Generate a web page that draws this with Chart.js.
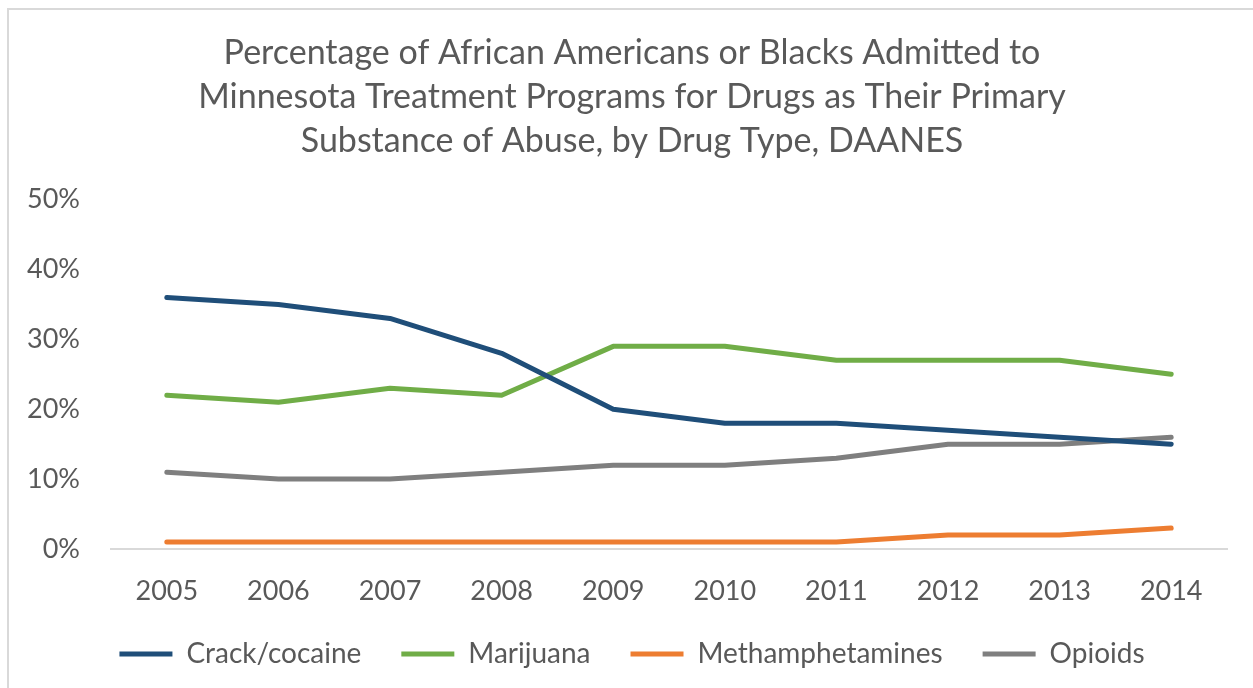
<!DOCTYPE html>
<html>
<head>
<meta charset="utf-8">
<script src="https://cdn.jsdelivr.net/npm/chart.js@4"></script>
<style>
  html, body { margin: 0; padding: 0; background: #fff; }
  #frame { position: absolute; left: 0; top: 0; width: 1253px; height: 688px; overflow: hidden; }
  #box { position: absolute; left: 7px; top: 8px; width: 1300px; height: 760px; border-left: 2px solid #d9d9d9; border-top: 2px solid #d9d9d9; }
  #wrap { position: absolute; left: 0; top: 0; width: 1253px; height: 688px; }
</style>
</head>
<body>
<div id="frame">
  <div id="box"></div>
  <div id="wrap"><canvas id="chart"></canvas></div>
</div>
<script>
// years on the x axis
const years = ['2005', '2006', '2007', '2008', '2009', '2010', '2011', '2012', '2013', '2014'];

// percent of admissions
const crackCocaine = [36, 35, 33, 28, 20, 18, 18, 17, 16, 15];
const marijuana = [22, 21, 23, 22, 29, 29, 27, 27, 27, 25];
const methamphetamines = [1, 1, 1, 1, 1, 1, 1, 2, 2, 3];
const opioids = [11, 10, 10, 11, 12, 12, 13, 15, 15, 16];

const titleLines = [
    'Percentage of African Americans or Blacks Admitted to',
    'Minnesota Treatment Programs for Drugs as Their Primary',
    'Substance of Abuse, by Drug Type, DAANES'
];

const textColor = '#595959';
const fontFamily = 'Lato, "Open Sans", sans-serif';

function line(label, data, color) {
    return {
        label: label,
        data: data,
        borderColor: color,
        backgroundColor: color,
        borderWidth: 5,
        borderCapStyle: 'round',
        borderJoinStyle: 'round',
        pointRadius: 0,
        pointHoverRadius: 0,
        tension: 0,
        fill: false
    };
}

const ctx = document.getElementById('chart');
new Chart(ctx.getContext('2d'), {
    type: 'line',
    data: {
        labels: years,
        datasets: [
            line('Crack/cocaine', crackCocaine, '#1f4e79'),
            line('Marijuana', marijuana, '#70ad47'),
            line('Methamphetamines', methamphetamines, '#ed7d31'),
            line('Opioids', opioids, '#7f7f7f')
        ]
    },
    options: {
        responsive: true,
        maintainAspectRatio: false,
        animation: false,
        layout: {
            // title and legend are centred a bit right of the canvas centre
            padding: { left: 11, right: 0, top: 0, bottom: 10 }
        },
        scales: {
            x: {
                offset: true,
                grid: { display: false, drawTicks: false },
                border: { display: true, color: '#d9d9d9', width: 2 },
                ticks: {
                    color: textColor,
                    font: { family: fontFamily, size: 27 },
                    padding: 26,
                    maxRotation: 0
                },
                afterFit: function (scale) { scale.height = 51; }
            },
            y: {
                min: 0,
                max: 50,
                grid: { display: false, drawTicks: false },
                border: { display: false },
                ticks: {
                    stepSize: 10,
                    color: textColor,
                    font: { family: fontFamily, size: 27 },
                    padding: 31,
                    callback: function (value) { return value + '%'; }
                },
                afterFit: function (scale) { scale.width = 100; }
            },
            // empty spacer on the right so the plot ends where the reference does
            spacer: {
                type: 'linear',
                position: 'right',
                grid: { display: false, drawTicks: false },
                border: { display: false },
                ticks: { display: false },
                afterFit: function (scale) { scale.width = 26; }
            }
        },
        plugins: {
            title: {
                display: true,
                text: titleLines,
                color: textColor,
                font: { family: fontFamily, size: 34, weight: 'normal', lineHeight: 1.3 },
                padding: { top: 31, bottom: 36 }
            },
            legend: {
                position: 'bottom',
                labels: {
                    color: textColor,
                    font: { family: fontFamily, size: 28 },
                    boxWidth: 53,
                    boxHeight: 5,
                    padding: 40,
                    generateLabels: function (chart) {
                        const items = Chart.defaults.plugins.legend.labels.generateLabels(chart);
                        items.forEach(function (it) { it.lineWidth = 0; });
                        return items;
                    }
                }
            },
            tooltip: { enabled: false }
        }
    }
});
</script>
</body>
</html>
